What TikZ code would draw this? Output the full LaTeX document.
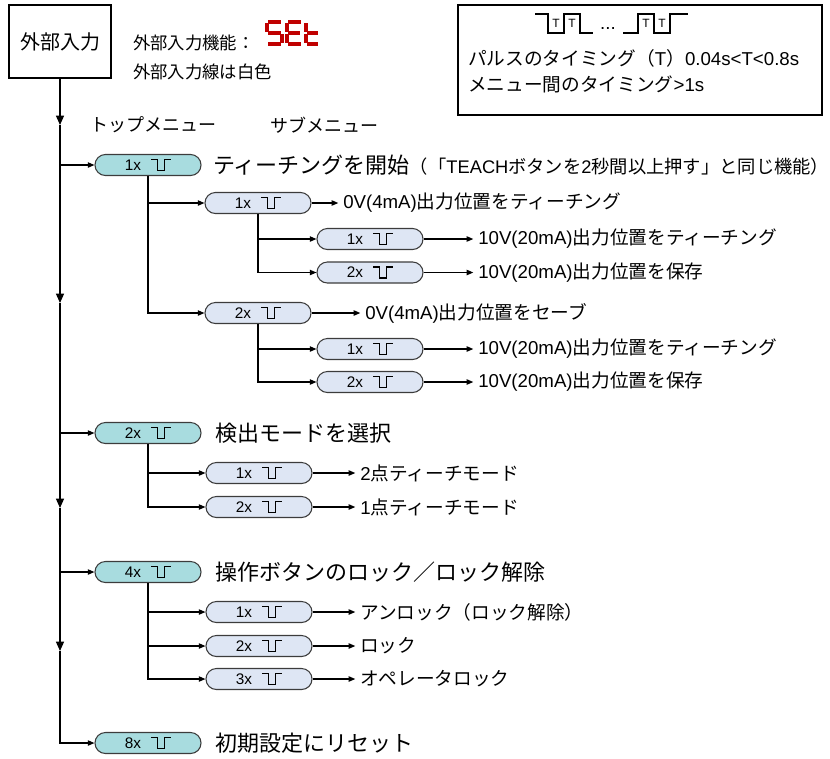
\documentclass[tikz,border=0pt]{standalone}
\usepackage{fontspec}
\setmainfont{Noto Sans CJK JP}
\newfontfamily\lat{Liberation Sans}
\usetikzlibrary{arrows.meta,calc}
\definecolor{tealfill}{HTML}{A8DCDF}
\definecolor{subfill}{HTML}{DEE6F4}
\definecolor{segred}{HTML}{C00000}
\definecolor{bord}{HTML}{3C3C3C}
\newcommand\mypulse[1]{\draw[pulseline] ($(#1.west)+(57,-5.5)$) -- ++(6,0) -- ++(0,11) -- ++(7,0) -- ++(0,-11) -- ++(7,0);}
\begin{document}
\begin{tikzpicture}[x=0.75pt,y=-0.75pt,
  menubox/.style={draw=bord, line width=0.8pt, rounded corners=7.8pt, minimum width=79.5pt, minimum height=15.75pt, inner sep=0pt, font=\lat\fontsize{11.5}{12}\selectfont},
  topm/.style={menubox, fill=tealfill},
  subm/.style={menubox, fill=subfill},
  pulseline/.style={line width=0.8pt, black},
  conn/.style={line width=0.9pt},
  arr/.style={conn, -{Triangle[length=5pt,width=4pt]}},
  mainarr/.style={conn, -{Triangle[length=7pt,width=6pt]}},
  toplab/.style={anchor=west, inner sep=0pt, font=\fontsize{16.5}{18}\selectfont},
  sublab/.style={anchor=west, inner sep=0pt, font=\fontsize{14}{16}\selectfont},
  note/.style={anchor=west, inner sep=0pt, font=\fontsize{13}{15}\selectfont},
  seg/.style={segred, line width=2.3pt},
  wave/.style={line width=1pt},
  tlab/.style={inner sep=0pt, font=\lat\fontsize{9}{10}\selectfont},
]
\useasboundingbox (0,0) rectangle (830,758);

% external input box
\node[draw, line width=1.8pt, minimum width=76.5pt, minimum height=54.75pt, inner sep=0pt, font=\fontsize{15}{18}\selectfont] (ext) at (60,41.5) {外部入力};
\node[note] (fn) at (133,43) {外部入力機能：};
\node[note] (wire) at (133,72) {外部入力線は白色};

% SEt seven segment
\draw[seg] (268.2,22) -- (280.8,22);
\draw[seg] (267,23.2) -- (267,31.8);
\draw[seg] (268.2,33) -- (280.8,33);
\draw[seg] (282,34.2) -- (282,42.8);
\draw[seg] (268.2,44) -- (280.8,44);
\draw[seg] (288.2,22) -- (300.8,22);
\draw[seg] (287,23.2) -- (287,31.8);
\draw[seg] (288.2,33) -- (299.8,33);
\draw[seg] (287,34.2) -- (287,42.8);
\draw[seg] (288.2,44) -- (300.8,44);
\draw[seg] (306,23.2) -- (306,31.8);
\draw[seg] (306,34.2) -- (306,42.8);
\draw[seg] (307.2,33) -- (317.5,33);
\draw[seg] (307.2,44) -- (317.5,44);

% info box
\node[draw, line width=1.1pt, minimum width=273pt, minimum height=82.5pt, inner sep=0pt] (info) at (640,60) {};
\draw[wave] (535,14) -- (548,14) -- (548,33) -- (564,33) -- (564,14) -- (580,14) -- (580,33) -- (593,33);
\draw[wave] (623,33) -- (638,33) -- (638,14) -- (654,14) -- (654,33) -- (670,33) -- (670,14) -- (688,14);
\node[tlab] (tA) at (556,23) {T};
\node[tlab] (tB) at (572,23) {T};
\node[tlab] (tC) at (646,23) {T};
\node[tlab] (tD) at (662,23) {T};
\node[inner sep=0pt, font=\lat\fontsize{14}{16}\selectfont] (dots) at (608,28) {...};
\node[anchor=west, inner sep=0pt, font=\fontsize{14}{16}\selectfont] (i1) at (468,58) {パルスのタイミング（{\lat T}）{\lat 0.04s<T<0.8s}};
\node[anchor=west, inner sep=0pt, font=\fontsize{14}{16}\selectfont] (i2) at (468,84) {メニュー間のタイミング{\lat >1s}};

% headers
\node[note, font=\fontsize{13.5}{15}\selectfont] (hTop) at (90,125) {トップメニュー};
\node[note, font=\fontsize{13.5}{15}\selectfont] (hSub) at (270,125) {サブメニュー};

% top menu nodes
\node[topm] (t1) at (148,165) {1x\kern22.5pt};
\node[topm] (t2) at (148,433) {2x\kern22.5pt};
\node[topm] (t3) at (148,572) {4x\kern22.5pt};
\node[topm] (t4) at (148,743) {8x\kern22.5pt};
\mypulse{t1}\mypulse{t2}\mypulse{t3}\mypulse{t4}

\node[toplab] (l1) at (213,165) {ティーチングを開始{\fontsize{13.7}{16}\selectfont （「{\lat TEACH}ボタンを{\lat 2}秒間以上押す」と同じ機能）}};
\node[toplab] (l2) at (215,433) {検出モードを選択};
\node[toplab] (l3) at (215,572) {操作ボタンのロック／ロック解除};
\node[toplab] (l4) at (215,743) {初期設定にリセット};

% group 1 sub nodes
\node[subm] (s1a) at (258,203) {1x\kern22.5pt};
\node[subm] (s2a) at (370,239) {1x\kern22.5pt};
\node[subm] (s2b) at (370,272.5) {2x\kern22.5pt};
\node[subm] (s1b) at (258,313) {2x\kern22.5pt};
\node[subm] (s2c) at (370,349) {1x\kern22.5pt};
\node[subm] (s2d) at (370,382) {2x\kern22.5pt};
% group 2
\node[subm] (g2a) at (259,473) {1x\kern22.5pt};
\node[subm] (g2b) at (259,507) {2x\kern22.5pt};
% group 3
\node[subm] (g3a) at (259,612) {1x\kern22.5pt};
\node[subm] (g3b) at (259,646) {2x\kern22.5pt};
\node[subm] (g3c) at (259,679) {3x\kern22.5pt};
\foreach \n in {s1a,s2a,s2b,s1b,s2c,s2d,g2a,g2b,g3a,g3b,g3c}{\mypulse{\n}}

% sub labels
\node[sublab] (ls1a) at (343,203) {{\lat 0V(4mA)}出力位置をティーチング};
\node[sublab] (ls2a) at (478,239) {{\lat 10V(20mA)}出力位置をティーチング};
\node[sublab] (ls2b) at (478,272.5) {{\lat 10V(20mA)}出力位置を保存};
\node[sublab] (ls1b) at (365,313) {{\lat 0V(4mA)}出力位置をセーブ};
\node[sublab] (ls2c) at (478,349) {{\lat 10V(20mA)}出力位置をティーチング};
\node[sublab] (ls2d) at (478,382) {{\lat 10V(20mA)}出力位置を保存};
\node[sublab] (lg2a) at (360,473) {{\lat 2}点ティーチモード};
\node[sublab] (lg2b) at (360,507) {{\lat 1}点ティーチモード};
\node[sublab] (lg3a) at (360,612) {アンロック（ロック解除）};
\node[sublab] (lg3b) at (360,646) {ロック};
\node[sublab] (lg3c) at (360,679) {オペレータロック};

% main line
\coordinate (a1) at (60,125);
\coordinate (a2) at (60,303);
\coordinate (a3) at (60,508);
\coordinate (a4) at (60,651);
\draw[mainarr] (ext.south) -- (a1);
\draw[mainarr] (a1) -- (a2);
\draw[mainarr] (a2) -- (a3);
\draw[mainarr] (a3) -- (a4);
\draw[arr] (a4) |- (t4.west);
\draw[arr] (ext.south |- t1.west) -- (t1.west);
\draw[arr] (ext.south |- t2.west) -- (t2.west);
\draw[arr] (ext.south |- t3.west) -- (t3.west);

% branches
\draw[arr] (t1.south) |- (s1a.west);
\draw[arr] (t1.south) |- (s1b.west);
\draw[arr] (s1a.south) |- (s2a.west);
\draw[arr] (s1a.south) |- (s2b.west);
\draw[arr] (s1b.south) |- (s2c.west);
\draw[arr] (s1b.south) |- (s2d.west);
\draw[arr] (t2.south) |- (g2a.west);
\draw[arr] (t2.south) |- (g2b.west);
\draw[arr] (t3.south) |- (g3a.west);
\draw[arr] (t3.south) |- (g3b.west);
\draw[arr] (t3.south) |- (g3c.west);

% outputs
\foreach \a/\b in {s1a/ls1a,s2a/ls2a,s2b/ls2b,s1b/ls1b,s2c/ls2c,s2d/ls2d,g2a/lg2a,g2b/lg2b,g3a/lg3a,g3b/lg3b,g3c/lg3c}{
  \draw[arr, shorten >=3.5pt] (\a.east) -- (\b.west);
}
\end{tikzpicture}
\end{document}
